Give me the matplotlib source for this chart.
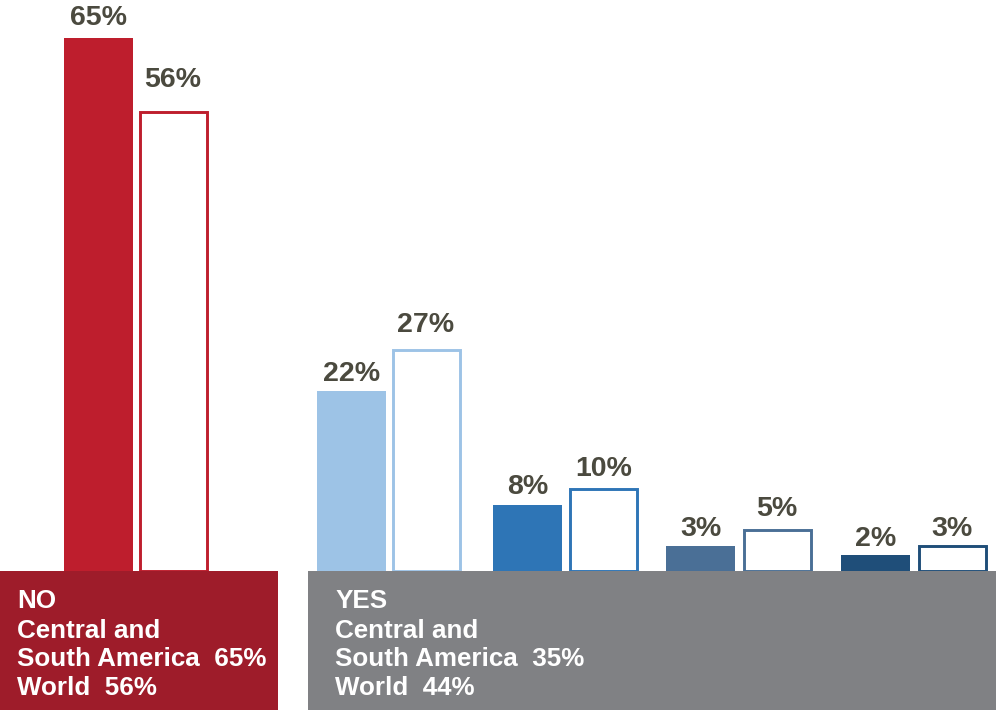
import matplotlib
matplotlib.use("Agg")
import matplotlib.pyplot as plt
from matplotlib.patches import Rectangle

# ---- data ----
categories = ["NO", "YES 1", "YES 2", "YES 3", "YES 4"]
csa_values = [65, 22, 8, 3, 2]        # Central and South America (filled bars)
world_values = [56, 27, 10, 5, 3]     # World (outlined bars)
box_no_lines = ["NO", "Central and", "South America  65%", "World  56%"]
box_yes_lines = ["YES", "Central and", "South America  35%", "World  44%"]

# ---- style / layout ----
fill_colors = ["#BE1E2D", "#9DC3E6", "#2E75B6", "#4A6F96", "#1F4E79"]
csa_x = [98.5, 351.5, 527.5, 700.5, 875.5]
world_x = [173, 426, 603.5, 777, 952]
bar_w = 69
px_per_pct = 8.2
base_px = 571
H, W = 710, 996
csa_gap_px = [13, 10, 11, 10, 9]
world_gap_px = [25, 18, 13, 14, 10]
line_baselines_px = [608, 637.5, 666.5, 695]
label_color = "#4B4A3F"

fig = plt.figure(figsize=(W / 100, H / 100), dpi=100)
ax = fig.add_axes([0, 0, 1, 1])
ymin = -(H - base_px) / px_per_pct
ymax = base_px / px_per_pct
ax.set_xlim(0, W)
ax.set_ylim(ymin, ymax)
ax.axis("off")

font = "Liberation Sans"

for i in range(len(categories)):
    ax.bar(csa_x[i], csa_values[i], width=bar_w, color=fill_colors[i],
           edgecolor="none", zorder=2)
    ax.bar(world_x[i], world_values[i], width=bar_w - 2, color="white",
           edgecolor=fill_colors[i], linewidth=2.1, zorder=2)
    ax.text(csa_x[i], csa_values[i] + csa_gap_px[i] / px_per_pct,
            f"{csa_values[i]}%", ha="center", va="baseline",
            fontsize=20.5, fontweight="bold", color=label_color, family=font)
    ax.text(world_x[i], world_values[i] + world_gap_px[i] / px_per_pct,
            f"{world_values[i]}%", ha="center", va="baseline",
            fontsize=20.5, fontweight="bold", color=label_color, family=font)

# bottom boxes
ax.add_patch(Rectangle((0, ymin), 278, -ymin, facecolor="#9E1C2A",
                       edgecolor="none", zorder=5))
ax.add_patch(Rectangle((308, ymin), W - 308, -ymin, facecolor="#808184",
                       edgecolor="none", zorder=5))

for x0, lines in ((17, box_no_lines), (335, box_yes_lines)):
    for line, yb in zip(lines, line_baselines_px):
        ax.text(x0, -(yb - base_px) / px_per_pct, line, ha="left",
                va="baseline", fontsize=18.7, fontweight="bold",
                color="white", family=font, zorder=6)

fig.savefig("out.png", dpi=100)
